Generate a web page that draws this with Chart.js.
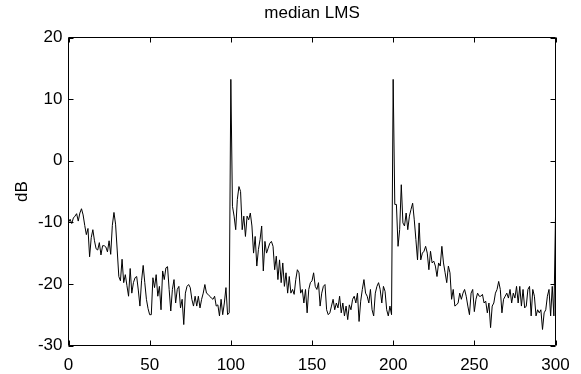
<!DOCTYPE html>
<html>
<head>
<meta charset="utf-8">
<script src="https://cdn.jsdelivr.net/npm/chart.js@4"></script>
<style>
body { margin: 0; background: #fff; }
</style>
</head>
<body>
<canvas id="myChart" width="581" height="374"></canvas>
<script>
// median LMS curve, one value per sample 0..300 (dB)
const dB = [
    -10, -9.5, -10.2, -9.3, -9.0, -8.6, -9.8, -8.5, -7.8, -8.8,
    -10.5, -12.0, -11.0, -15.6, -12.5, -11.2, -13.0, -14.3, -14.5, -13.3,
    -15.3, -13.8, -13.8, -14.0, -14.8, -13.0, -15.2, -10.5, -8.4, -10.3,
    -14.5, -18.8, -19.5, -16.0, -19.8, -18.5, -20.3, -22.0, -17.5, -21.5,
    -19.8, -19.0, -18.8, -21.0, -23.6, -19.5, -17.0, -19.8, -22.5, -24.0,
    -25.0,
    -25.0, -19.0, -20.6, -18.5, -22.0, -20.4, -24.2, -17.9, -19.3,
    -17.4, -17.2, -20.9, -24.4, -20.9, -19.3, -23.1, -20.9, -20.4, -23.9,
    -22.5, -26.6, -21.5, -20.4, -20.1, -20.6, -22.5, -23.6, -22.0, -23.6,
    -22.0, -23.9, -22.5, -21.5, -20.1, -21.5, -21.7, -22.0, -22.3, -22.5,
    -22.0, -23.6, -23.4, -25.2, -22.5, -25.0, -23.1, -20.6, -25.0, -24.7,
    13.2,
    -7.4, -9.0, -11.2, -6.3, -4.2, -5.0, -11.2, -9.0, -12.3,
    -9.0, -9.6, -8.5, -10.6, -15.0, -12.3, -17.1, -14.4, -12.8, -10.6,
    -17.9, -13.1, -15.0, -14.2, -13.4, -13.1, -13.9, -17.7, -15.5, -19.3,
    -16.1, -19.8, -16.6, -20.4, -18.2, -21.5, -18.8, -21.5, -20.9, -21.7,
    -19.3, -17.7, -18.2, -21.5, -20.9, -23.1, -20.9, -24.7, -20.9, -19.8,
    -19.5, -18.2, -20.4, -20.9, -19.8, -23.6, -21.5, -20.4, -20.1, -24.2,
    -25.0, -24.7, -23.6, -22.5, -24.2, -23.1, -23.9, -22.0, -24.7, -23.1,
    -25.2, -23.6, -25.8, -23.4, -24.2, -22.5, -22.0, -23.1, -21.5, -26.1,
    -22.8, -20.9, -19.3, -21.5, -22.0, -23.1, -20.9, -24.2, -25.2, -21.5,
    -20.4, -19.8, -20.9, -23.1, -20.4, -21.2, -24.2, -25.2, -23.6, -25.0,
    13.2,
    -7.1, -7.1, -13.9, -11.2, -3.9, -10.1, -10.6, -8.5, -11.2,
    -9.0, -7.9, -6.9, -9.6, -12.8, -16.1, -10.1, -16.1, -15.0, -14.7,
    -13.9, -15.0, -17.7, -14.7, -16.6, -16.3, -17.1, -18.8, -16.6, -17.1,
    -13.9, -16.6, -18.2, -19.8, -17.1, -18.2, -22.5, -20.9, -23.6, -23.4,
    -23.1, -21.5, -22.5, -21.5, -20.9, -22.0, -23.6, -25.0, -21.5, -20.9,
    -24.5, -22.5, -21.5, -22.0, -22.0, -21.7, -23.1, -22.8, -24.7, -23.1,
    -27.1, -23.6, -23.1, -21.5, -20.9, -19.6, -20.9, -24.7, -22.5, -22.0,
    -21.5, -22.3, -20.9, -23.1, -21.5, -22.3, -20.4, -23.1, -20.4, -23.6,
    -20.9, -23.9, -23.6, -20.9, -20.4, -25.2, -20.9, -22.0, -25.2, -24.2,
    -24.7, -24.2, -27.4, -24.7, -24.2, -22.0, -20.9, -25.2, -20.4, -25.2,
    -9.0
];
const xTicks = [0, 50, 100, 150, 200, 250, 300];
const yTicks = [-30, -20, -10, 0, 10, 20];
const titleText = 'median LMS';
const yLabel = 'dB';

Chart.defaults.font.family = '"Liberation Sans", Arial, Helvetica, sans-serif';
Chart.defaults.font.size = 17;
Chart.defaults.color = '#000';

// matlab style box with inward ticks
const boxPlugin = {
    id: 'box',
    afterDatasetsDraw(chart) {
        const { ctx, chartArea: a, scales } = chart;
        const len = 5;
        ctx.save();
        ctx.strokeStyle = '#000';
        ctx.lineWidth = 1;
        ctx.beginPath();
        ctx.rect(a.left, a.top, a.right - a.left, a.bottom - a.top);
        xTicks.forEach(v => {
            const px = Math.round(scales.x.getPixelForValue(v)) + 0.5;
            ctx.moveTo(px, a.bottom); ctx.lineTo(px, a.bottom - len);
            ctx.moveTo(px, a.top); ctx.lineTo(px, a.top + len);
        });
        yTicks.forEach(v => {
            const py = Math.round(scales.y.getPixelForValue(v)) + 0.5;
            ctx.moveTo(a.left, py); ctx.lineTo(a.left + len, py);
            ctx.moveTo(a.right, py); ctx.lineTo(a.right - len, py);
        });
        ctx.stroke();
        ctx.restore();
    }
};

new Chart(document.getElementById('myChart'), {
    type: 'line',
    data: {
        datasets: [{
            data: dB.map((v, i) => ({ x: i, y: v })),
            borderColor: '#000',
            borderWidth: 1,
            pointRadius: 0,
            tension: 0,
            fill: false
        }]
    },
    options: {
        responsive: false,
        animation: false,
        layout: { padding: { left: 0, right: 25.5, top: 0, bottom: 0 } },
        plugins: {
            legend: { display: false },
            tooltip: { enabled: false },
            title: {
                display: true,
                text: titleText,
                fullSize: false,
                font: { size: 17, weight: 'normal' },
                padding: { top: 3, bottom: 14.1 }
            }
        },
        scales: {
            x: {
                type: 'linear',
                min: 0,
                max: 300,
                afterFit: s => { s.height = 28.5; },
                afterBuildTicks: s => { s.ticks = xTicks.map(v => ({ value: v })); },
                grid: { display: false, drawTicks: false },
                border: { display: false },
                ticks: { padding: 10, maxRotation: 0, autoSkip: false }
            },
            y: {
                min: -30,
                max: 20,
                afterFit: s => { s.width = 68.5; },
                afterBuildTicks: s => { s.ticks = yTicks.map(v => ({ value: v })); },
                grid: { display: false, drawTicks: false },
                border: { display: false },
                ticks: { padding: 6, callback: v => String(v) },
                title: { display: true, text: yLabel, font: { size: 17 }, padding: { top: 12, bottom: 0 } }
            }
        }
    },
    plugins: [boxPlugin]
});
</script>
</body>
</html>
